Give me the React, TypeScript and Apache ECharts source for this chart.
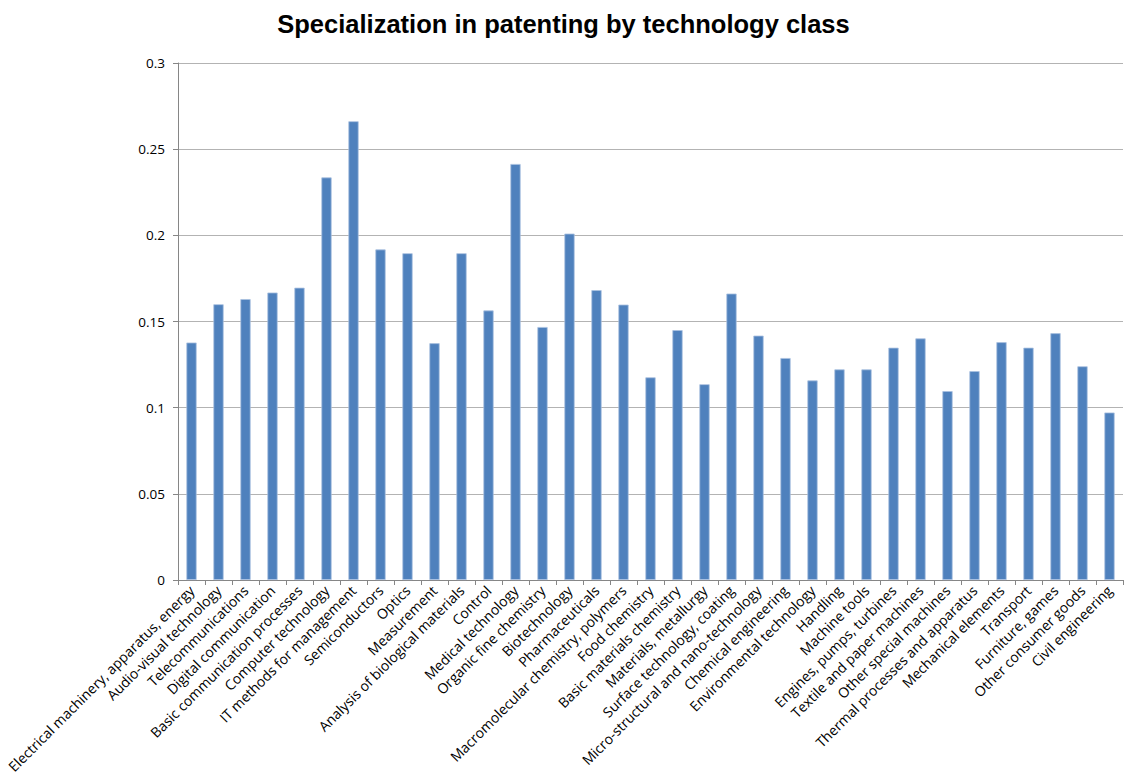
import React, { useEffect, useRef } from "react";
import * as echarts from "echarts";

const categories: string[] = [
  "Electrical machinery, apparatus, energy",
  "Audio-visual technology",
  "Telecommunications",
  "Digital communication",
  "Basic communication processes",
  "Computer technology",
  "IT methods for management",
  "Semiconductors",
  "Optics",
  "Measurement",
  "Analysis of biological materials",
  "Control",
  "Medical technology",
  "Organic fine chemistry",
  "Biotechnology",
  "Pharmaceuticals",
  "Macromolecular chemistry, polymers",
  "Food chemistry",
  "Basic materials chemistry",
  "Materials, metallurgy",
  "Surface technology, coating",
  "Micro-structural and nano-technology",
  "Chemical engineering",
  "Environmental technology",
  "Handling",
  "Machine tools",
  "Engines, pumps, turbines",
  "Textile and paper machines",
  "Other special machines",
  "Thermal processes and apparatus",
  "Mechanical elements",
  "Transport",
  "Furniture, games",
  "Other consumer goods",
  "Civil engineering",
];

const specialization: number[] = [
  0.1378, 0.160, 0.163, 0.1668, 0.1696, 0.2336, 0.2662, 0.1918, 0.1896, 0.1374,
  0.1896, 0.1564, 0.2414, 0.1468, 0.201, 0.1682, 0.1598, 0.1176, 0.145, 0.1136,
  0.1662, 0.1418, 0.1288, 0.1158, 0.1222, 0.1222, 0.1348, 0.1402, 0.1096, 0.1212,
  0.138, 0.1348, 0.1432, 0.124, 0.0972,
];

const yTicks: string[] = ["0", "0.05", "0.1", "0.15", "0.2", "0.25", "0.3"];

export default function App() {
  const ref = useRef<HTMLDivElement>(null);
  useEffect(() => {
    if (!ref.current) return;
    const chart = echarts.init(ref.current, undefined, { renderer: "svg" });
    chart.setOption({
      animation: false,
      backgroundColor: "#ffffff",
      title: {
        text: "Specialization in patenting by technology class",
        left: "center",
        top: 6,
        textStyle: {
          fontFamily: "Liberation Sans, Arial, sans-serif",
          fontWeight: "bold",
          fontSize: 25.5,
          color: "#000",
        },
      },
      grid: { left: 178, right: 4, top: 63, bottom: 198, containLabel: false },
      xAxis: {
        type: "category",
        data: categories,
        axisLine: { show: true, lineStyle: { color: "#868686", width: 1 } },
        axisTick: { show: true, alignWithLabel: false, length: 5, lineStyle: { color: "#868686" } },
        axisLabel: {
          interval: 0,
          rotate: 45,
          margin: 8,
          fontFamily: "Open Sans, Liberation Sans, sans-serif",
          fontSize: 14,
          color: "#000",
        },
      },
      yAxis: {
        type: "value",
        min: 0,
        max: 0.3,
        interval: 0.05,
        axisLine: { show: true, lineStyle: { color: "#868686", width: 1 } },
        axisTick: { show: true, length: 5, lineStyle: { color: "#868686" } },
        splitLine: { show: true, lineStyle: { color: "#b3b3b3", width: 1 } },
        axisLabel: {
          margin: 13,
          fontFamily: "Open Sans, Liberation Sans, sans-serif",
          fontSize: 13.5,
          color: "#000",
          formatter: (v: number) => {
            const idx = Math.round(v / 0.05);
            return yTicks[idx] ?? String(v);
          },
        },
      },
      series: [
        {
          type: "bar",
          data: specialization,
          barWidth: "38%",
          itemStyle: {
            color: "#4F81BD",
            borderColor: "#a9c0e0",
            borderWidth: 0.8,
          },
        },
      ],
    });
    return () => chart.dispose();
  }, []);
  return (
    <div
      ref={ref}
      style={{ position: "fixed", left: 0, top: 0, width: 1127, height: 778 }}
    />
  );
}
